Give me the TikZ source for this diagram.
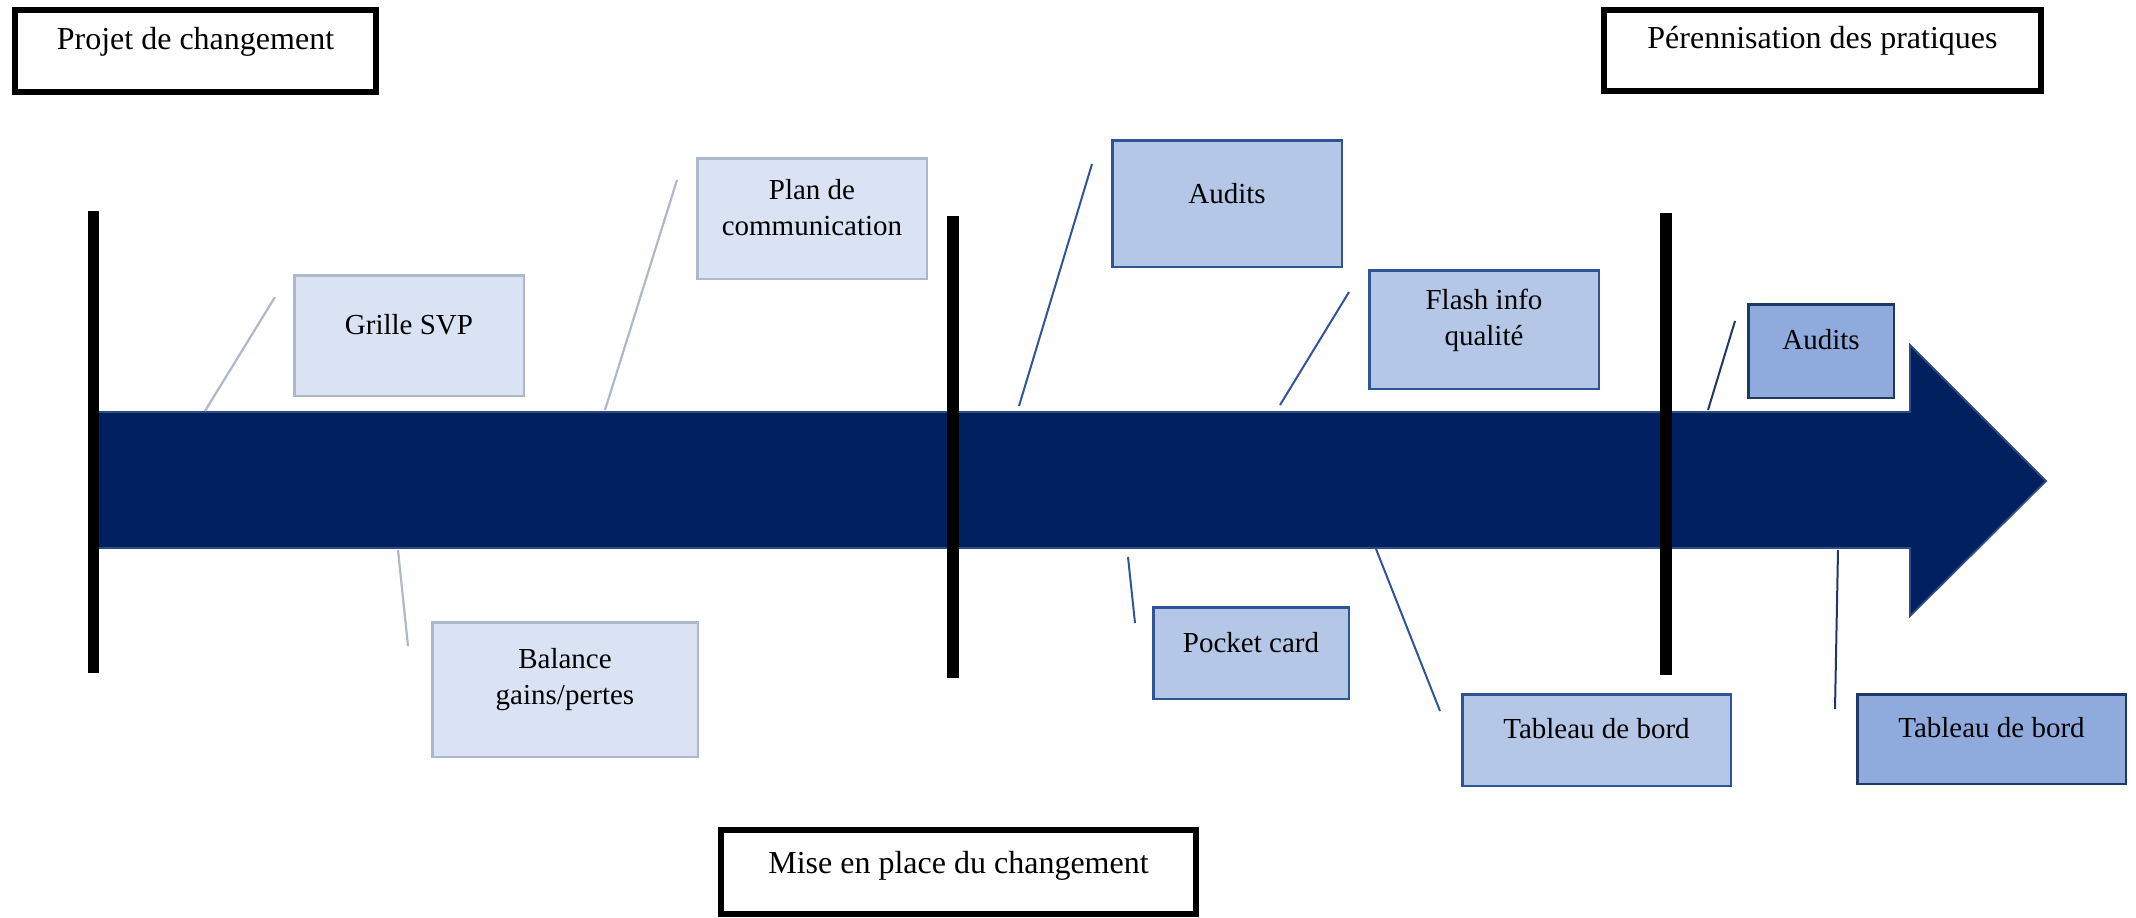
\documentclass[tikz,border=0pt]{standalone}
\usepackage{fontspec}
\setmainfont{Liberation Serif}
\definecolor{navy}{HTML}{002060}
\definecolor{navyedge}{HTML}{2E4D82}
\definecolor{lightfill}{HTML}{DAE3F3}
\definecolor{lightedge}{HTML}{ADB9CA}
\definecolor{midfill}{HTML}{B4C7E7}
\definecolor{midedge}{HTML}{2F5597}
\definecolor{darkfill}{HTML}{8FAADC}
\definecolor{darkedge}{HTML}{203864}
\tikzset{
  phasebox/.style={draw=black, line width=3pt, fill=white, rectangle, inner sep=0pt},
  lightbox/.style={draw=lightedge, fill=lightfill, line width=1.25pt, rectangle, inner sep=0pt},
  midbox/.style={draw=midedge, fill=midfill, line width=1.25pt, rectangle, inner sep=0pt},
  darkbox/.style={draw=darkedge, fill=darkfill, line width=1.25pt, rectangle, inner sep=0pt},
  txt/.style={inner sep=0pt, align=center, font=\fontsize{16}{18.4}\selectfont},
  tooltxt/.style={inner sep=0pt, align=center, font=\fontsize{14.5}{18}\selectfont},
  lightline/.style={draw=lightedge, line width=1.1pt},
  midline/.style={draw=midedge, line width=1pt},
  darkline/.style={draw=darkedge, line width=1pt},
  bar/.style={draw=none, fill=black},
}
\begin{document}
\begin{tikzpicture}[x=0.5pt,y=-0.5pt]
\useasboundingbox (0,0) rectangle (2136,917);
% main arrow
\fill[navy, draw=navyedge, line width=0.9pt] (98,412) -- (1910,412) -- (1910,345) -- (2046,481) -- (1910,616) -- (1910,548) -- (98,548) -- cycle;
% phase bars
\fill[bar] (88,211) rectangle (99,673);
\fill[bar] (947,216) rectangle (959,678);
\fill[bar] (1660,213) rectangle (1672,675);
% phase boxes
\node[phasebox, minimum width=180.5pt, minimum height=41pt] (projet) at (195.5,51) {};
\node[txt] (projetT) at (195.5,42) {Projet de changement};
\node[phasebox, minimum width=218.5pt, minimum height=40.5pt] (peren) at (1822.5,50.5) {};
\node[txt] (perenT) at (1822.5,41) {Pérennisation des pratiques};
\node[phasebox, minimum width=237.5pt, minimum height=42pt] (mise) at (958.5,872) {};
\node[txt] (miseT) at (958.5,866) {Mise en place du changement};
% tool boxes
\node[lightbox, minimum width=114.75pt, minimum height=60.25pt] (grille) at (409,335.5) {};
\node[tooltxt] (grilleT) at (409,325) {Grille SVP};
\node[lightbox, minimum width=114.75pt, minimum height=60.25pt] (plan) at (812,218.5) {};
\node[tooltxt] (planT) at (812,208) {Plan de\\communication};
\node[lightbox, minimum width=132.75pt, minimum height=67.25pt] (balance) at (565,689.5) {};
\node[tooltxt] (balanceT) at (565,680) {Balance\\gains/pertes};
\node[midbox, minimum width=114.75pt, minimum height=63.25pt] (audits1) at (1227,203.5) {};
\node[tooltxt] (audits1T) at (1227,194) {Audits};
\node[midbox, minimum width=114.75pt, minimum height=59.25pt] (flash) at (1484,329.5) {};
\node[tooltxt] (flashT) at (1484,320) {Flash info\\qualité};
\node[midbox, minimum width=97.75pt, minimum height=45.75pt] (pocket) at (1251,653) {};
\node[tooltxt] (pocketT) at (1251,643) {Pocket card};
\node[midbox, minimum width=134.25pt, minimum height=45.75pt] (tab1) at (1596.5,740) {};
\node[tooltxt] (tab1T) at (1596.5,729) {Tableau de bord};
\node[darkbox, minimum width=72.75pt, minimum height=46.75pt] (audits2) at (1821,351) {};
\node[tooltxt] (audits2T) at (1821,340) {Audits};
\node[darkbox, minimum width=134.25pt, minimum height=44.75pt] (tab2) at (1991.5,739) {};
\node[tooltxt] (tab2T) at (1991.5,728) {Tableau de bord};
% connector end points
\coordinate (gA) at (275,297); \coordinate (gB) at (205,411);
\coordinate (pA) at (677,180); \coordinate (pB) at (605,410);
\coordinate (bA) at (398,550); \coordinate (bB) at (408,646);
\coordinate (a1A) at (1092,164); \coordinate (a1B) at (1019,406);
\coordinate (fA) at (1349,292); \coordinate (fB) at (1280,405);
\coordinate (pcA) at (1128,557); \coordinate (pcB) at (1135,623);
\coordinate (t1A) at (1376,549); \coordinate (t1B) at (1440,711);
\coordinate (a2A) at (1735,321); \coordinate (a2B) at (1708,410);
\coordinate (t2A) at (1838,550); \coordinate (t2B) at (1835,709);
% connectors
\draw[lightline] (gA) -- (gB);
\draw[lightline] (pA) -- (pB);
\draw[lightline] (bA) -- (bB);
\draw[midline] (a1A) -- (a1B);
\draw[midline] (fA) -- (fB);
\draw[midline] (pcA) -- (pcB);
\draw[midline] (t1A) -- (t1B);
\draw[darkline] (a2A) -- (a2B);
\draw[darkline] (t2A) -- (t2B);
\end{tikzpicture}
\end{document}
